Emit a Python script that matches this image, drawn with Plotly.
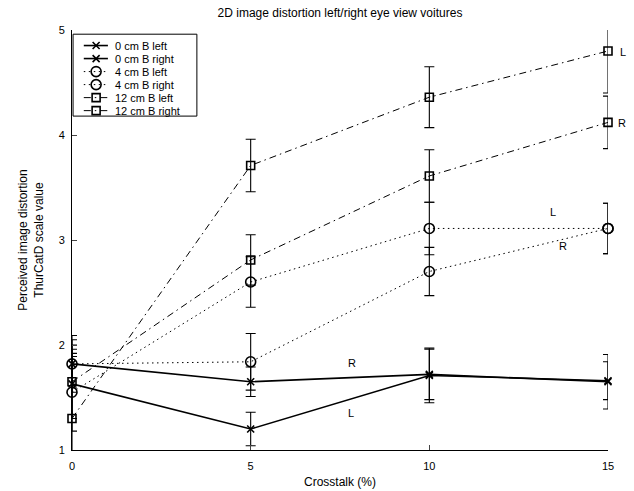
import plotly.graph_objects as go

# Crosstalk levels (%)
crosstalk = [0, 5, 10, 15]

# Mean ThurCatD scale values and error half-widths per condition
b0_left = [1.63, 1.20, 1.71, 1.66]
b0_left_err = [0.33, 0.16, 0.26, 0.18]
b0_right = [1.82, 1.65, 1.72, 1.65]
b0_right_err = [0.27, 0.14, 0.24, 0.26]

b4_left = [1.55, 2.60, 3.11, 3.11]
b4_left_err = [0.37, 0.24, 0.25, 0.24]
b4_right = [1.82, 1.84, 2.70, 3.11]
b4_right_err = [0.23, 0.27, 0.23, 0.24]

b12_left = [1.30, 3.71, 4.36, 4.80]
b12_left_err = [0.59, 0.25, 0.29, 0.40]
b12_right = [1.65, 2.81, 3.61, 4.12]
b12_right_err = [0.35, 0.24, 0.25, 0.25]

series_names = ["0 cm B left", "0 cm B right", "4 cm B left",
                "4 cm B right", "12 cm B left", "12 cm B right"]
y_ticks = [1, 2, 3, 4, 5]
x_ticks = [0, 5, 10, 15]

# Eye labels placed next to the curves inside the axes: (text, x, y)
eye_labels = [
    ("R", 7.84, 1.83), ("L", 7.80, 1.35),
    ("L", 13.46, 3.27), ("R", 13.73, 2.94),
]
# Eye labels just right of the last crosstalk level (x in paper units)
edge_labels = [("L", 1.037, 4.79), ("R", 1.037, 4.11)]

FONT = "Liberation Sans, Arial, Helvetica, sans-serif"
DOT = "1.5px,3.5px"
DASHDOT = "7px,4px,1.5px,4px"

styles = [
    (b0_left, b0_left_err, "solid", "x-thin-open", 7, 1.6),
    (b0_right, b0_right_err, "solid", "x-thin-open", 7, 1.6),
    (b4_left, b4_left_err, DOT, "circle-open", 10, 1.0),
    (b4_right, b4_right_err, DOT, "circle-open", 10, 1.0),
    (b12_left, b12_left_err, DASHDOT, "square-open", 8, 1.0),
    (b12_right, b12_right_err, DASHDOT, "square-open", 8, 1.0),
]

fig = go.Figure()
for name, (vals, errs, dash, symbol, msize, lw) in zip(series_names, styles):
    fig.add_trace(go.Scatter(
        x=crosstalk, y=vals, name=name, mode="lines+markers",
        line=dict(color="black", width=lw, dash=dash),
        marker=dict(symbol=symbol, size=msize, color="black",
                    line=dict(color="black", width=1.6)),
        error_y=dict(type="data", array=errs, visible=True,
                     color="black", thickness=1.1, width=5),
        cliponaxis=False, showlegend=False,
    ))

# Compact boxed legend drawn on an overlay axis spanning the plot area (0..1)
leg_left, leg_right, leg_top, leg_bottom = 0.002, 0.233, 0.990, 0.795
row_top, row_step = 0.963, 0.031
sym_x0, sym_xm, sym_x1, text_x = 0.022, 0.045, 0.067, 0.076
fig.add_shape(type="rect", xref="paper", yref="paper",
              x0=leg_left, x1=leg_right, y0=leg_bottom, y1=leg_top,
              line=dict(color="black", width=1), fillcolor="white",
              layer="below")
for i, (name, (_, _, dash, symbol, msize, lw)) in enumerate(zip(series_names, styles)):
    yr = row_top - i * row_step
    fig.add_trace(go.Scatter(
        x=[sym_x0, sym_xm, sym_x1], y=[yr, yr, yr], xaxis="x2", yaxis="y2",
        mode="lines", line=dict(color="black", width=lw, dash=dash),
        showlegend=False, hoverinfo="skip", cliponaxis=False))
    fig.add_trace(go.Scatter(
        x=[sym_xm], y=[yr], xaxis="x2", yaxis="y2", mode="markers",
        marker=dict(symbol=symbol, size=msize, color="black",
                    line=dict(color="black", width=1.6)),
        showlegend=False, hoverinfo="skip", cliponaxis=False))
    fig.add_annotation(x=text_x, y=yr, xref="paper", yref="paper",
                       text=name, showarrow=False, xanchor="left",
                       yanchor="middle",
                       font=dict(size=11, color="black", family=FONT))

for text, x, y in eye_labels:
    fig.add_annotation(x=x, y=y, text=text, showarrow=False,
                       font=dict(size=11, color="black", family=FONT))
for text, x, y in edge_labels:
    fig.add_annotation(x=x, y=y, xref="paper", yref="y", text=text,
                       showarrow=False,
                       font=dict(size=11, color="black", family=FONT))

fig.update_layout(
    width=634, height=491,
    margin=dict(l=72, r=26, t=30, b=41, autoexpand=False),
    paper_bgcolor="white", plot_bgcolor="white",
    font=dict(family=FONT, size=11, color="black"),
    title=dict(text="2D image distortion left/right eye view voitures",
               x=0.5, xref="paper", xanchor="center",
               y=1 - 13 / 491, yanchor="middle",
               font=dict(size=12, family=FONT, color="black")),
    showlegend=False,
    xaxis=dict(range=[0, 15], tickvals=x_ticks, ticks="inside", ticklen=5,
               showline=True, linecolor="black", linewidth=1,
               showgrid=False, zeroline=False, mirror=False,
               automargin=False,
               tickfont=dict(size=11), ticklabelstandoff=6,
               title=dict(text="Crosstalk (%)", standoff=6,
                          font=dict(size=12))),
    yaxis=dict(range=[1, 5], tickvals=y_ticks, ticks="inside", ticklen=5,
               showline=True, linecolor="black", linewidth=1,
               showgrid=False, zeroline=False, mirror=False,
               automargin=False,
               tickfont=dict(size=11), ticklabelstandoff=4,
               title=dict(text="Perceived image distortion<br>ThurCatD scale value",
                          standoff=12, font=dict(size=12))),
    xaxis2=dict(overlaying="x", range=[0, 1], visible=False, fixedrange=True,
                automargin=False),
    yaxis2=dict(overlaying="y", range=[0, 1], visible=False, fixedrange=True,
                automargin=False),
)

fig.write_html("out.html")
